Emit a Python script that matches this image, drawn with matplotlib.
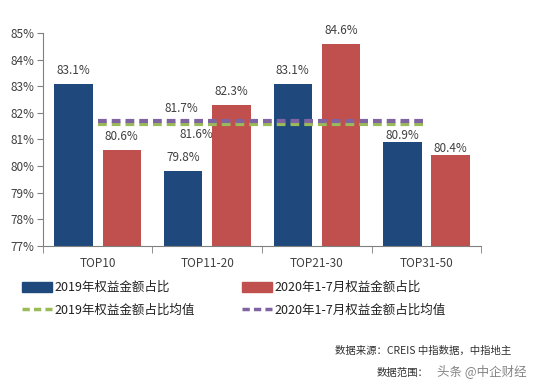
import matplotlib
matplotlib.use("Agg")
import matplotlib.pyplot as plt
import numpy as np
from matplotlib.patches import Patch
from matplotlib.lines import Line2D

plt.rcParams['font.family'] = ['Noto Sans CJK SC', 'DejaVu Sans']

categories = ["TOP10", "TOP11-20", "TOP21-30", "TOP31-50"]
share_2019 = [83.1, 79.8, 83.1, 80.9]
share_2020 = [80.6, 82.3, 84.6, 80.4]
mean_2019 = 81.6
mean_2020 = 81.7
series_names = ["2019年权益金额占比", "2020年1-7月权益金额占比",
                "2019年权益金额占比均值", "2020年1-7月权益金额占比均值"]

BLUE, RED, GREEN, PURPLE = "#1F497D", "#C0504D", "#9BBB59", "#8064A2"
TXT = "#404040"
DASH = (0, (2.1, 1.2))

fig = plt.figure(figsize=(5.5, 3.88), dpi=100)
ax = fig.add_axes([0.078, 0.366, 0.797, 0.549])

x = np.arange(len(categories))
w = 0.35
off = 0.22
ax.bar(x - off, share_2019, w, bottom=0, color=BLUE)
ax.bar(x + off, share_2020, w, bottom=0, color=RED)

# last group's labels sit closer to the bars (below the mean lines)
for vals, sign in ((share_2019, -1), (share_2020, 1)):
    for i, v in enumerate(vals):
        dy = 0 if i == len(vals) - 1 else 5
        ax.annotate(f"{v:.1f}%", (x[i] + sign * off, v), xytext=(0, dy),
                    textcoords="offset points", ha="center", va="bottom",
                    fontsize=8.5, color=TXT)

ax.plot([x[0], x[-1]], [mean_2019] * 2, color=GREEN, lw=3, ls=DASH)
ax.plot([x[0], x[-1]], [mean_2020] * 2, color=PURPLE, lw=3, ls=DASH)
ax.annotate(f"{mean_2020:.1f}%", (0.76, mean_2020), xytext=(0, 9), textcoords="offset points",
            ha="center", va="center", fontsize=8.5, color=TXT)
ax.annotate(f"{mean_2019:.1f}%", (0.9, mean_2019), xytext=(0, -8), textcoords="offset points",
            ha="center", va="center", fontsize=8.5, color=TXT)

ax.set_ylim(77, 85)
ax.set_xlim(-0.5, 3.5)
ax.set_yticks(range(77, 86))
ax.set_yticklabels([f"{t}%" for t in range(77, 86)], fontsize=8.5, color=TXT)
ax.set_xticks(x)
ax.set_xticklabels(categories, fontsize=8.5, color=TXT)
ax.tick_params(axis="x", length=0, pad=8)
ax.set_xticks(np.arange(-0.5, 4.0, 1.0), minor=True)
ax.tick_params(axis="x", which="minor", length=5, color="#808080")
ax.tick_params(axis="y", length=4, color="#808080", pad=2)
for s in ["top", "right"]:
    ax.spines[s].set_visible(False)
for s in ["left", "bottom"]:
    ax.spines[s].set_color("#808080")

handles = [Patch(color=BLUE), Line2D([], [], color=GREEN, lw=2.5, ls=DASH),
           Patch(color=RED), Line2D([], [], color=PURPLE, lw=2.5, ls=DASH)]
labels = [series_names[0], series_names[2], series_names[1], series_names[3]]
fig.legend(handles, labels, ncol=2, loc="upper left", bbox_to_anchor=(0.03, 0.288),
           frameon=False, fontsize=9, handlelength=2.4, handleheight=0.9,
           handletextpad=0.2, columnspacing=3.8, labelspacing=0.75,
           labelcolor="#202020", borderaxespad=0)

fig.text(0.93, 0.095, "数据来源：CREIS 中指数据，中指地主", ha="right", va="center",
         fontsize=7.5, color="#303030")
fig.text(0.685, 0.04, "数据范围：", ha="left", va="center", fontsize=7.5, color="#303030")
fig.text(0.795, 0.043, "头条 @中企财经", ha="left", va="center", fontsize=9,
         color="#505050", alpha=0.7)

fig.savefig("out.png", dpi=100)
